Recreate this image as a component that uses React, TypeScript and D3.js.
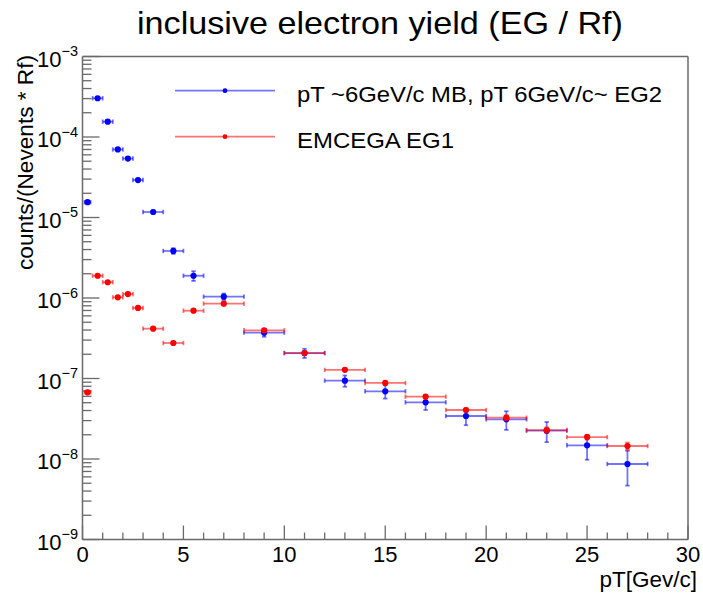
import React from "react";
import * as d3 from "d3";

const xCenters = [0.25, 0.75, 1.25, 1.75, 2.25, 2.75, 3.5, 4.5, 5.5, 7, 9, 11, 13, 15, 17, 19, 21, 23, 25, 27];
const xHalfWidths = [0.15, 0.25, 0.25, 0.25, 0.25, 0.25, 0.5, 0.5, 0.5, 1, 1, 1, 1, 1, 1, 1, 1, 1, 1, 1];

const blueValues = [1.55e-5, 3.03e-4, 1.55e-4, 7.0e-5, 5.4e-5, 2.92e-5, 1.17e-5, 3.84e-6, 1.89e-6, 1.04e-6, 3.71e-7, 2.07e-7, 9.4e-8, 6.93e-8, 5.06e-8, 3.42e-8, 3.11e-8, 2.25e-8, 1.48e-8, 8.67e-9];
const blueErrors = [4.7e-7, 6e-6, 3.1e-6, 2.1e-6, 1.6e-6, 8.8e-7, 4.7e-7, 3.1e-7, 2.6e-7, 9.4e-8, 4.1e-8, 2.7e-8, 1.5e-8, 1.3e-8, 1.0e-8, 7.9e-9, 8.1e-9, 6.3e-9, 5.0e-9, 4.0e-9];

const redValues = [6.74e-8, 1.89e-6, 1.57e-6, 1.02e-6, 1.12e-6, 7.52e-7, 4.16e-7, 2.76e-7, 6.95e-7, 8.5e-7, 3.97e-7, 2.07e-7, 1.28e-7, 8.8e-8, 5.94e-8, 4.06e-8, 3.26e-8, 2.29e-8, 1.87e-8, 1.45e-8];
const redErrors = [3.4e-9, 3.8e-8, 3.1e-8, 3.1e-8, 3.4e-8, 2.3e-8, 1.2e-8, 8.3e-9, 2.1e-8, 2.6e-8, 1.2e-8, 8.3e-9, 3.8e-9, 3.5e-9, 3.0e-9, 2.0e-9, 2.3e-9, 1.8e-9, 1.3e-9, 1.5e-9];

const xTickLabels = ["0", "5", "10", "15", "20", "25", "30"];
const yDecadeExponents = [-9, -8, -7, -6, -5, -4, -3];

const seriesNames = ["pT ~6GeV/c MB, pT 6GeV/c~ EG2", "EMCEGA EG1"];
const titleText = "inclusive electron yield (EG / Rf)";
const xAxisTitle = "pT[Gev/c]";
const yAxisTitle = "counts/(Nevents * Rf)";

const W = 703;
const H = 593;
const FONT = "'Liberation Sans', Arial, Helvetica, sans-serif";
const AXIS_COLOR = "#6a6a6a";

export default function App() {
  const x = d3.scaleLinear().domain([0, 30]).range([82.5, 688]);
  const y = d3.scaleLog().domain([1e-9, 1e-3]).range([539.5, 56.5]);
  const [x0, x1] = x.range();
  const [yb, yt] = y.range();

  const series = [
    { name: seriesNames[0], values: blueValues, errors: blueErrors, color: "#0000ff", bar: "rgba(0,0,255,0.55)" },
    { name: seriesNames[1], values: redValues, errors: redErrors, color: "#ff0000", bar: "rgba(255,0,0,0.55)" },
  ];

  const minorX = d3.range(0, 31, 1).filter((v) => v % 5 !== 0);
  const majorX = xTickLabels.map((t) => +t);
  const minorY: number[] = [];
  yDecadeExponents.slice(0, -1).forEach((e) => {
    for (let m = 2; m <= 9; m++) minorY.push(m * Math.pow(10, e));
  });

  const cap = 2.2;

  return (
    <svg width={W} height={H} style={{ position: "absolute", left: 0, top: 0, background: "#fff" }} fontFamily={FONT}>
      <rect x={0} y={0} width={W} height={H} fill="#fff" />
      {/* title */}
      <text x={380} y={34} textAnchor="middle" fontSize={30.5} textLength={486} lengthAdjust="spacingAndGlyphs" fill="#000">
        {titleText}
      </text>

      {/* frame */}
      <line x1={x0} x2={x1} y1={yt} y2={yt} stroke={AXIS_COLOR} strokeWidth={1.5} />
      <line x1={x1} x2={x1} y1={yt} y2={yb} stroke={AXIS_COLOR} strokeWidth={1.5} />
      <line x1={x0} x2={x1} y1={yb} y2={yb} stroke={AXIS_COLOR} strokeWidth={1.5} />
      <line x1={x0} x2={x0} y1={yt} y2={yb} stroke={AXIS_COLOR} strokeWidth={1.5} />

      {/* x ticks */}
      {minorX.map((v) => (
        <line key={"mx" + v} x1={x(v)} x2={x(v)} y1={yb} y2={yb - 7} stroke={AXIS_COLOR} strokeWidth={1.3} />
      ))}
      {majorX.map((v) => (
        <line key={"Mx" + v} x1={x(v)} x2={x(v)} y1={yb} y2={yb - 14} stroke={AXIS_COLOR} strokeWidth={1.3} />
      ))}
      {xTickLabels.map((t) => (
        <text key={"xl" + t} x={x(+t)} y={562} textAnchor="middle" fontSize={22} fill="#000">
          {t}
        </text>
      ))}
      <text x={697} y={587} textAnchor="end" fontSize={22.5} fill="#000">
        {xAxisTitle}
      </text>

      {/* y ticks */}
      {minorY.map((v, i) => (
        <line key={"my" + i} x1={x0} x2={x0 + 9} y1={y(v)} y2={y(v)} stroke={AXIS_COLOR} strokeWidth={1.3} />
      ))}
      {yDecadeExponents.map((e) => (
        <line key={"My" + e} x1={x0} x2={x0 + 17} y1={y(Math.pow(10, e))} y2={y(Math.pow(10, e))} stroke={AXIS_COLOR} strokeWidth={1.3} />
      ))}
      {yDecadeExponents.map((e) => (
        <text key={"yl" + e} x={78} y={y(Math.pow(10, e)) + 10} textAnchor="end" fontSize={22} fill="#000">
          10
          <tspan dy={-10.5} fontSize={14.5}>{"\u2212" + Math.abs(e)}</tspan>
        </text>
      ))}
      <text
        transform={`translate(33, 55) rotate(-90)`}
        textAnchor="end"
        fontSize={22.5}
        fill="#000"
        textLength={215}
        lengthAdjust="spacingAndGlyphs"
      >
        {yAxisTitle}
      </text>

      {/* data */}
      {series.map((s, si) => (
        <g key={"s" + si}>
          {s.values.map((v, i) => {
            const cx = x(xCenters[i]);
            const cy = y(v);
            const xl = x(xCenters[i] - xHalfWidths[i]);
            const xr = x(xCenters[i] + xHalfWidths[i]);
            const yTop = y(v + s.errors[i]);
            const yBot = y(Math.max(v - s.errors[i], 1e-10));
            return (
              <g key={i} stroke={s.bar} strokeWidth={1.8} fill="none">
                <line x1={Math.max(xl, x0)} x2={xr} y1={cy} y2={cy} />
                <line x1={xl} x2={xl} y1={cy - cap} y2={cy + cap} />
                <line x1={xr} x2={xr} y1={cy - cap} y2={cy + cap} />
                <line x1={cx} x2={cx} y1={yTop} y2={yBot} />
                <line x1={cx - cap} x2={cx + cap} y1={yTop} y2={yTop} />
                <line x1={cx - cap} x2={cx + cap} y1={yBot} y2={yBot} />
              </g>
            );
          })}
          {s.values.map((v, i) => (
            <circle key={"c" + i} cx={x(xCenters[i])} cy={y(v)} r={3.1} fill={s.color} />
          ))}
        </g>
      ))}

      {/* legend */}
      {series.map((s, si) => {
        const ly = 90.7 + si * 46;
        return (
          <g key={"lg" + si}>
            <line x1={175} x2={275} y1={ly} y2={ly} stroke={s.bar} strokeWidth={1.8} />
            <circle cx={225} cy={ly} r={2.4} fill={s.color} />
            <text
              x={297}
              y={ly + 11.3}
              fontSize={22.5}
              fill="#000"
              textLength={si === 0 ? 365 : 157}
              lengthAdjust="spacingAndGlyphs"
            >
              {s.name}
            </text>
          </g>
        );
      })}
    </svg>
  );
}
